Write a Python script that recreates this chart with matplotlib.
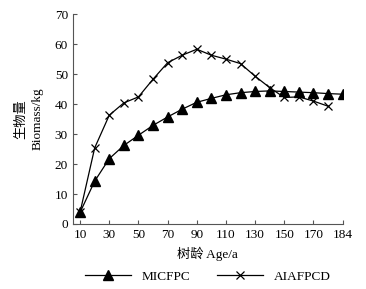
import numpy as np
import matplotlib.pyplot as plt

plt.rcParams['font.family'] = ['Liberation Serif', 'Noto Sans CJK SC']

# Daten
age_mic = [10, 20, 30, 40, 50, 60, 70, 80, 90, 100, 110, 120, 130, 140, 150, 160, 170, 180, 190]
mic = [3.9, 14.3, 21.8, 26.2, 29.6, 32.9, 35.7, 38.3, 40.6, 41.9, 43.1, 43.8, 44.2, 44.4, 44.2, 44.0, 43.8, 43.5, 43.3]
age_aia = [10, 20, 30, 40, 50, 60, 70, 80, 90, 100, 110, 120, 130, 140, 150, 160, 170, 180]
aia = [4.0, 25.4, 36.3, 40.4, 42.4, 48.3, 53.8, 56.3, 58.3, 56.3, 55.0, 53.5, 49.3, 45.5, 42.2, 42.4, 41.0, 39.3]
xticks = [10, 30, 50, 70, 90, 110, 130, 150, 170, 190]
xticklabels = ['10', '30', '50', '70', '90', '110', '130', '150', '170', '184']

fig = plt.figure(figsize=(3.66, 2.89), dpi=100)
ax = fig.add_axes([0.199, 0.225, 0.737, 0.726])

ax.plot(age_mic, mic, color='k', lw=0.9, marker='^', ms=6.5, mfc='k', mec='k', label='MICFPC')
ax.plot(age_aia, aia, color='k', lw=0.9, marker='x', ms=6, mew=0.9, label='AIAFPCD')

ax.set_xlim(5, 190)
ax.set_ylim(0, 70)
ax.set_xticks(xticks)
ax.set_xticklabels(xticklabels)
ax.set_yticks(range(0, 71, 10))
ax.tick_params(direction='in', length=3, width=0.8, labelsize=9.5, color='#555555')
for s in ['top', 'right']:
    ax.spines[s].set_visible(False)
for s in ['left', 'bottom']:
    ax.spines[s].set_color('#555555')
    ax.spines[s].set_linewidth(0.8)

ax.set_xlabel('树龄 Age/a', fontsize=9.5, labelpad=4)
ax.set_ylabel('生物量\nBiomass/kg', fontsize=9.5, labelpad=8, linespacing=1.5)

ax.legend(loc='upper center', bbox_to_anchor=(0.5, -0.165), ncol=2, frameon=False,
          fontsize=9.5, handlelength=3.5, columnspacing=2)

fig.savefig('out.png', dpi=100)
